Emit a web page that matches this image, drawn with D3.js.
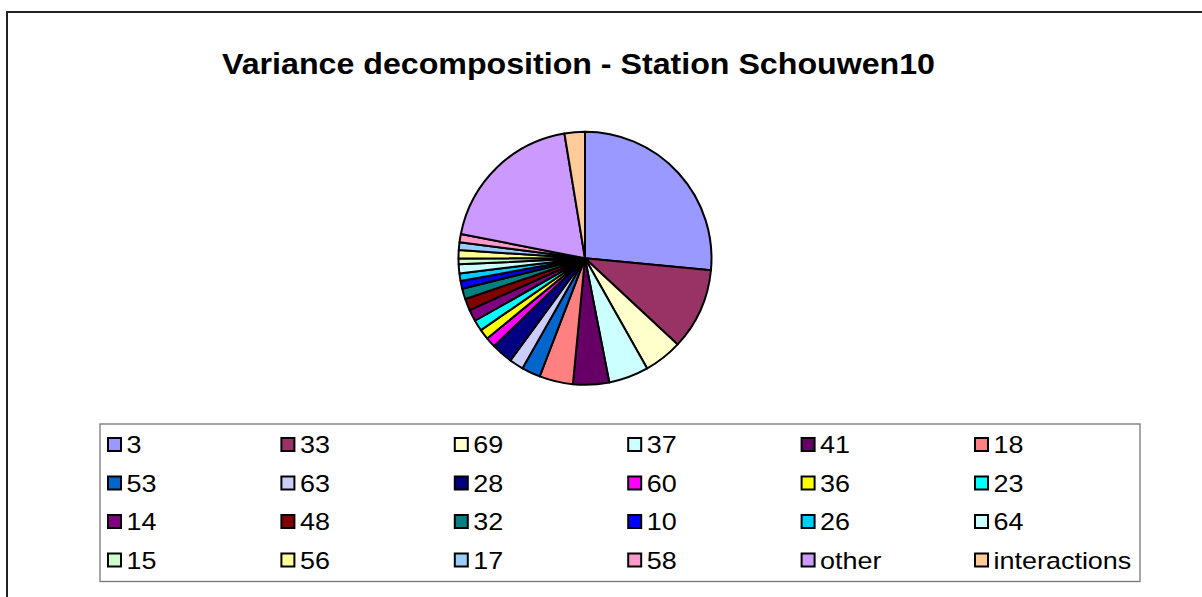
<!DOCTYPE html>
<html>
  <head>
    <meta charset="UTF-8">
    <title>Variance decomposition</title>
    <style>
      html, body {
        margin: 0;
        padding: 0;
        background: #fff;
      }

      text {
        font-family: "Liberation Sans", Arial, sans-serif;
        fill: #000;
      }
    </style>
  </head>
  <body>
    <svg width="1202" height="597"></svg>
    <script src="https://cdn.jsdelivr.net/npm/d3@7/dist/d3.min.js"></script>
    <script>

      // slice labels, in the order they go round the pie (clockwise from 12 o'clock)
      const labels = ['3', '33', '69', '37', '41', '18', '53', '63', '28', '60', '36', '23',
        '14', '48', '32', '10', '26', '64', '15', '56', '17', '58', 'other', 'interactions']

      // share of variance (%)
      const values = [26.5, 10.4, 4.9, 5.1, 4.6, 4.3, 2.4, 1.8, 2.75, 1.3, 1.3, 1.4,
        1.5, 1.5, 1.35, 1.0, 0.95, 1.15, 0.75, 1.05, 1.0, 1.05, 19.3, 2.6]

      // old excel chart palette
      const colors = ['#9999FF', '#993366', '#FFFFCC', '#CCFFFF', '#660066', '#FF8080',
        '#0066CC', '#CCCCFF', '#000080', '#FF00FF', '#FFFF00', '#00FFFF',
        '#800080', '#800000', '#008080', '#0000FF', '#00CCFF', '#CCFFFF',
        '#CCFFCC', '#FFFF99', '#99CCFF', '#FF99CC', '#CC99FF', '#FFCC99']

      const title = 'Variance decomposition - Station Schouwen10'

      const svg = d3.select('svg')

      // outer chart frame (runs off the right and bottom edge)
      svg.append('rect')
        .attr('x', 7).attr('y', 12)
        .attr('width', 1220).attr('height', 620)
        .attr('fill', 'none')
        .attr('stroke', '#222')
        .attr('stroke-width', 2)

      svg.append('text')
        .attr('x', 222).attr('y', 74)
        .attr('font-size', 30)
        .attr('font-weight', 'bold')
        .attr('textLength', 713)
        .attr('lengthAdjust', 'spacingAndGlyphs')
        .text(title)

      // pie
      const data = labels.map((l, i) => ({ label: l, value: values[i] }))
      const color = d3.scaleOrdinal().domain(labels).range(colors)

      const pie = d3.pie()
        .value(d => d.value)
        .sort(null)

      const arc = d3.arc()
        .innerRadius(0)
        .outerRadius(126.5)

      const g = svg.append('g')
        .attr('transform', 'translate(585,258.3)')

      g.selectAll('path')
        .data(pie(data))
        .enter().append('path')
        .attr('d', arc)
        .attr('fill', d => color(d.data.label))
        .attr('stroke', '#000')
        .attr('stroke-width', 2)
        .attr('stroke-linejoin', 'round')

      // legend
      const legend = svg.append('g')

      legend.append('rect')
        .attr('x', 100).attr('y', 424)
        .attr('width', 1040).attr('height', 157.5)
        .attr('fill', '#fff')
        .attr('stroke', '#777')
        .attr('stroke-width', 1.3)

      const col = d3.scaleLinear().domain([0, 5]).range([107, 974])
      const row = d3.scaleLinear().domain([0, 3]).range([444.5, 560])

      const item = legend.selectAll('.item')
        .data(data)
        .enter().append('g')
        .attr('class', 'item')
        .attr('transform', (d, i) => 'translate(' + col(i % 6) + ',' + row(Math.floor(i / 6)) + ')')

      item.append('rect')
        .attr('x', 1).attr('y', -6.5)
        .attr('width', 13).attr('height', 13)
        .attr('fill', d => color(d.label))
        .attr('stroke', '#000')
        .attr('stroke-width', 2)

      item.append('text')
        .attr('x', 19.5).attr('y', 8.8)
        .attr('font-size', 24.5)
        .text(d => d.label)
        .each(function () {
          // the reference text is a bit wider than plain Arial
          const w = this.getComputedTextLength()
          d3.select(this)
            .attr('textLength', w * 1.1)
            .attr('lengthAdjust', 'spacingAndGlyphs')
        })

    </script>
  </body>
</html>
